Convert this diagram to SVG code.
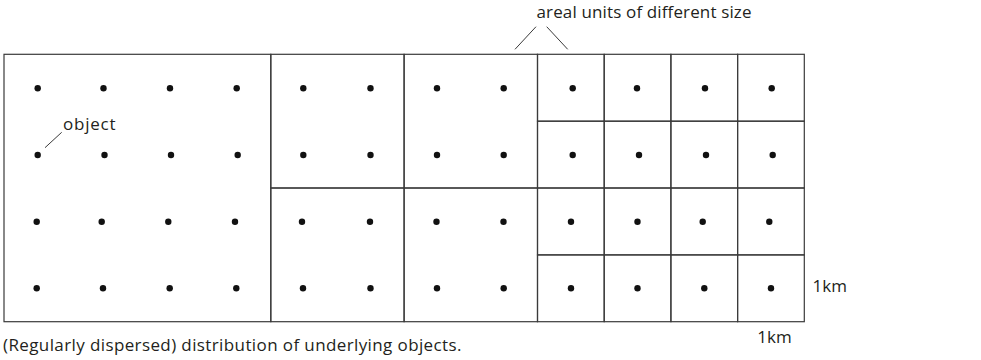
<svg xmlns="http://www.w3.org/2000/svg" width="981" height="360" viewBox="0 0 981 360">
<style>
.unit{fill:none;stroke:#3a3a3a;stroke-width:1.2}
.dot{fill:#111}
.lead{stroke:#3a3a3a;stroke-width:1;fill:none}
text{font-family:"Open Sans","Liberation Sans",sans-serif;font-size:17px;fill:#231f20}
</style>
<defs>
<circle id="d" r="3.2" class="dot"/>
</defs>
<rect width="981" height="360" fill="#fff"/>
<g id="unit-large">
<rect class="unit" x="4" y="54.3" width="266.8" height="267.4"/>
<use href="#d" x="37.7" y="88.3"/><use href="#d" x="103.5" y="88.3"/><use href="#d" x="170" y="88.3"/><use href="#d" x="236.7" y="88.3"/>
<use href="#d" x="37.7" y="155"/><use href="#d" x="104.5" y="155"/><use href="#d" x="171" y="155"/><use href="#d" x="237.7" y="155"/>
<use href="#d" x="36.7" y="221.7"/><use href="#d" x="101.7" y="221.7"/><use href="#d" x="168.3" y="221.7"/><use href="#d" x="235" y="221.7"/>
<use href="#d" x="36.7" y="288.3"/><use href="#d" x="103" y="288.3"/><use href="#d" x="169.7" y="288.3"/><use href="#d" x="236.3" y="288.3"/>
</g>
<g id="unit-medium-1">
<rect class="unit" x="270.8" y="54.3" width="133.3" height="133.7"/>
<use href="#d" x="303.3" y="88.3"/><use href="#d" x="370.5" y="88.3"/><use href="#d" x="303.3" y="155"/><use href="#d" x="370.5" y="155"/>
</g>
<g id="unit-medium-2">
<rect class="unit" x="404.1" y="54.3" width="133.4" height="133.7"/>
<use href="#d" x="437" y="88.3"/><use href="#d" x="503.7" y="88.3"/><use href="#d" x="437" y="155"/><use href="#d" x="503.7" y="155"/>
</g>
<g id="unit-medium-3">
<rect class="unit" x="270.8" y="188" width="133.3" height="133.7"/>
<use href="#d" x="302" y="221.7"/><use href="#d" x="370" y="221.7"/><use href="#d" x="303" y="288.3"/><use href="#d" x="370.5" y="288.3"/>
</g>
<g id="unit-medium-4">
<rect class="unit" x="404.1" y="188" width="133.4" height="133.7"/>
<use href="#d" x="436.5" y="221.7"/><use href="#d" x="503.5" y="221.7"/><use href="#d" x="437" y="288.3"/><use href="#d" x="503.7" y="288.3"/>
</g>
<g id="unit-small-r1c1"><rect class="unit" x="537.5" y="54.3" width="66.7" height="66.9"/><use href="#d" x="572.7" y="88.3"/></g>
<g id="unit-small-r1c2"><rect class="unit" x="604.2" y="54.3" width="66.7" height="66.9"/><use href="#d" x="637" y="88.3"/></g>
<g id="unit-small-r1c3"><rect class="unit" x="670.9" y="54.3" width="66.7" height="66.9"/><use href="#d" x="705" y="88.3"/></g>
<g id="unit-small-r1c4"><rect class="unit" x="737.6" y="54.3" width="66.7" height="66.9"/><use href="#d" x="771.7" y="88.3"/></g>
<g id="unit-small-r2c1"><rect class="unit" x="537.5" y="121.2" width="66.7" height="66.8"/><use href="#d" x="572.7" y="155"/></g>
<g id="unit-small-r2c2"><rect class="unit" x="604.2" y="121.2" width="66.7" height="66.8"/><use href="#d" x="639" y="155"/></g>
<g id="unit-small-r2c3"><rect class="unit" x="670.9" y="121.2" width="66.7" height="66.8"/><use href="#d" x="706" y="155"/></g>
<g id="unit-small-r2c4"><rect class="unit" x="737.6" y="121.2" width="66.7" height="66.8"/><use href="#d" x="772.7" y="155"/></g>
<g id="unit-small-r3c1"><rect class="unit" x="537.5" y="188" width="66.7" height="66.9"/><use href="#d" x="571" y="221.7"/></g>
<g id="unit-small-r3c2"><rect class="unit" x="604.2" y="188" width="66.7" height="66.9"/><use href="#d" x="637.5" y="221.7"/></g>
<g id="unit-small-r3c3"><rect class="unit" x="670.9" y="188" width="66.7" height="66.9"/><use href="#d" x="702.7" y="221.7"/></g>
<g id="unit-small-r3c4"><rect class="unit" x="737.6" y="188" width="66.7" height="66.9"/><use href="#d" x="769.3" y="221.7"/></g>
<g id="unit-small-r4c1"><rect class="unit" x="537.5" y="254.9" width="66.7" height="66.8"/><use href="#d" x="571" y="288.3"/></g>
<g id="unit-small-r4c2"><rect class="unit" x="604.2" y="254.9" width="66.7" height="66.8"/><use href="#d" x="637.5" y="288.3"/></g>
<g id="unit-small-r4c3"><rect class="unit" x="670.9" y="254.9" width="66.7" height="66.8"/><use href="#d" x="704.3" y="288.3"/></g>
<g id="unit-small-r4c4"><rect class="unit" x="737.6" y="254.9" width="66.7" height="66.8"/><use href="#d" x="771" y="288.3"/></g>
<g id="connectors">
<line class="lead" x1="45" y1="147.7" x2="61.7" y2="132.3"/>
<line class="lead" x1="515" y1="49.3" x2="536" y2="26.7"/>
<line class="lead" x1="546.7" y1="26.7" x2="567.7" y2="49.3"/>
</g>
<g id="labels">
<text x="63" y="130" textLength="52.5" lengthAdjust="spacing">object</text>
<text x="536.5" y="17.5" textLength="215" lengthAdjust="spacing">areal units of different size</text>
<text x="812.5" y="291.7">1km</text>
<text x="757.3" y="342.7">1km</text>
<text x="3" y="351" textLength="458.5" lengthAdjust="spacing">(Regularly dispersed) distribution of underlying objects.</text>
</g>
</svg>
